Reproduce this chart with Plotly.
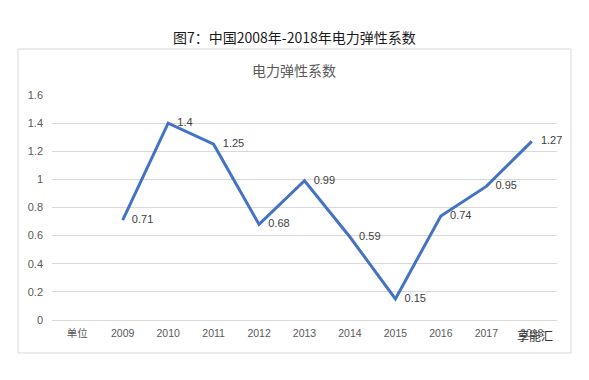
import plotly.graph_objects as go

categories = ["单位", "2009", "2010", "2011", "2012", "2013", "2014", "2015", "2016", "2017", "2018"]
values = [None, 0.71, 1.4, 1.25, 0.68, 0.99, 0.59, 0.15, 0.74, 0.95, 1.27]
labels = ["" if v is None else f"   {v:g}" for v in values]
y_ticks = [0, 0.2, 0.4, 0.6, 0.8, 1, 1.2, 1.4, 1.6]
y_tick_text = ["0", "0.2", "0.4", "0.6", "0.8", "1", "1.2", "1.4", "1.6"]

W, H = 589, 380
L, R, T, B = 52, 32, 95, 60
pw, ph = W - L - R, H - T - B

def px(x):
    return (x - L) / pw

def py(y):
    return (H - B - y) / ph

font_fam = "Liberation Sans, Noto Sans CJK SC, sans-serif"

fig = go.Figure()
fig.add_trace(go.Scatter(
    x=categories, y=values, mode="lines+text",
    line=dict(color="#4472C4", width=3),
    text=labels, textposition="middle right",
    textfont=dict(family=font_fam, size=11, color="#404040"),
    connectgaps=False, showlegend=False, cliponaxis=False,
))

fig.update_layout(
    width=W, height=H,
    margin=dict(l=L, r=R, t=T, b=B),
    paper_bgcolor="white", plot_bgcolor="white",
    font=dict(family=font_fam),
    xaxis=dict(
        type="category", categoryorder="array", categoryarray=categories,
        showgrid=False, showline=True, linecolor="#d9d9d9", linewidth=1,
        ticks="", tickfont=dict(size=10.5, color="#595959"), fixedrange=True,
        ticklabelstandoff=3,
    ),
    yaxis=dict(
        range=[0, 1.6], tickvals=y_ticks, ticktext=y_tick_text,
        showgrid=True, gridcolor="#d9d9d9", gridwidth=1, zeroline=False,
        showline=False, ticks="", tickfont=dict(size=11, color="#595959"),
        fixedrange=True, ticklabelstandoff=8,
    ),
    shapes=[dict(
        type="rect", xref="paper", yref="paper",
        x0=px(18), x1=px(571), y0=py(353), y1=py(49),
        line=dict(color="#d9d9d9", width=1), fillcolor="rgba(0,0,0,0)",
        layer="below",
    )],
    annotations=[
        dict(text="图7：中国2008年-2018年电力弹性系数", xref="paper", yref="paper",
             x=px(294), y=py(37), showarrow=False, xanchor="center", yanchor="middle",
             font=dict(family="Noto Sans CJK SC", size=14, color="#1a1a1a")),
        dict(text="电力弹性系数", xref="paper", yref="paper",
             x=px(294), y=py(70), showarrow=False, xanchor="center", yanchor="middle",
             font=dict(family="Noto Sans CJK SC", size=14, color="#595959")),
        dict(text="享能汇", xref="paper", yref="paper",
             x=px(535), y=py(335), showarrow=False, xanchor="center", yanchor="middle",
             font=dict(family="Noto Sans CJK SC", size=12, color="#333333")),
    ],
)

fig.write_html("out.html", config={"displayModeBar": False},
               post_script="document.body.style.margin='0';document.body.style.overflow='hidden';")
